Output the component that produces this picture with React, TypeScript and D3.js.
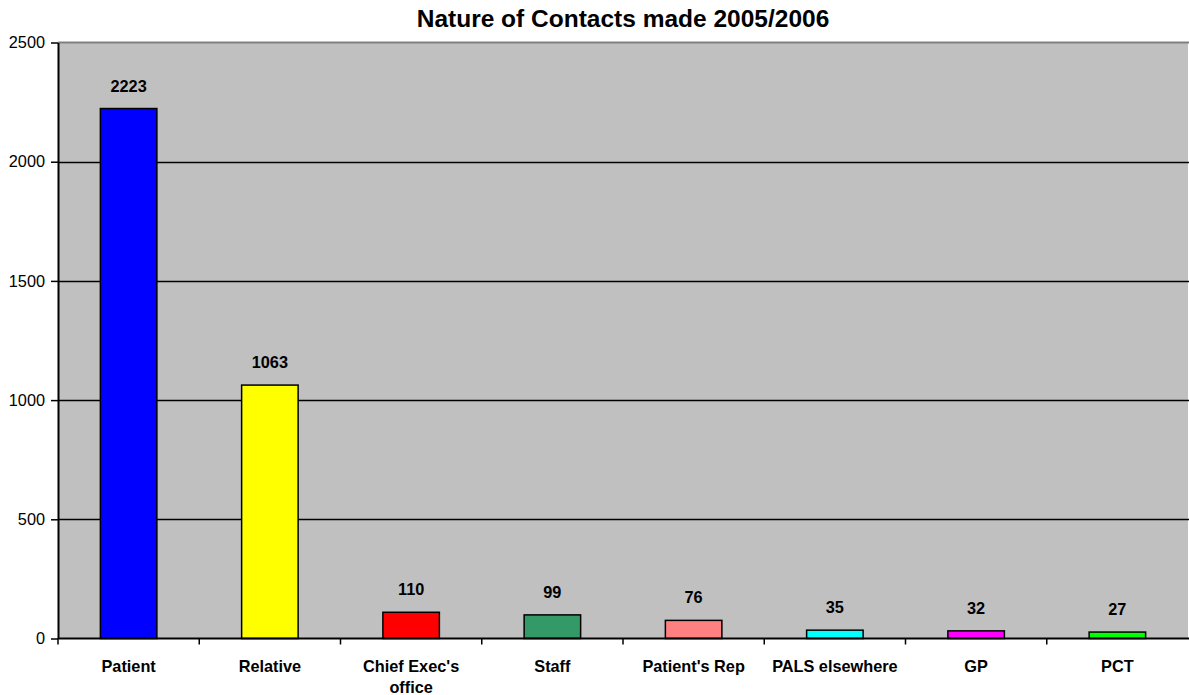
import React, { useEffect, useRef } from 'react';
import * as d3 from 'd3';

const categories = ["Patient", "Relative", "Chief Exec's office", "Staff", "Patient's Rep", "PALS elsewhere", "GP", "PCT"];
const values = [2223, 1063, 110, 99, 76, 35, 32, 27];
const barColors = ["#0000FF", "#FFFF00", "#FF0000", "#339966", "#FF8080", "#00FFFF", "#FF00FF", "#00FF00"];
const yTicks = [0, 500, 1000, 1500, 2000, 2500];
const title = "Nature of Contacts made 2005/2006";

const W = 1189;
const H = 695;

const App: React.FC = () => {
  const svgRef = useRef<SVGSVGElement>(null);

  useEffect(() => {
    if (!svgRef.current) return;
    const svg = d3.select(svgRef.current);
    svg.selectAll("*").remove();

    const left = 58;
    const right = 1188;
    const top = 42.5;
    const bottom = 638.5;
    const font = "'Liberation Sans', Arial, sans-serif";
    const fs = "16.3px";

    const x = d3.scaleBand<string>()
      .domain(categories)
      .range([left, right])
      .paddingInner(0)
      .paddingOuter(0);

    const y = d3.scaleLinear()
      .domain([0, 2500])
      .range([bottom, top]);

    // plot background
    svg.append("rect")
      .attr("x", left)
      .attr("y", top)
      .attr("width", right - left)
      .attr("height", bottom - top)
      .attr("fill", "#C0C0C0");

    // top border
    svg.append("line")
      .attr("x1", left).attr("x2", W)
      .attr("y1", top).attr("y2", top)
      .attr("stroke", "#808080")
      .attr("stroke-width", 2);

    // gridlines
    svg.append("g")
      .selectAll("line")
      .data(yTicks.filter(t => t > 0 && t < 2500))
      .enter()
      .append("line")
      .attr("x1", left).attr("x2", W)
      .attr("y1", d => Math.round(y(d)) + 0.5)
      .attr("y2", d => Math.round(y(d)) + 0.5)
      .attr("stroke", "#000")
      .attr("stroke-width", 1.5);

    // bars
    const barW = x.bandwidth() * 0.4;
    svg.append("g")
      .selectAll("rect")
      .data(values)
      .enter()
      .append("rect")
      .attr("x", (_, i) => (x(categories[i]) || 0) + x.bandwidth() / 2 - barW / 2)
      .attr("y", d => y(d))
      .attr("width", barW)
      .attr("height", d => bottom - y(d))
      .attr("fill", (_, i) => barColors[i])
      .attr("stroke", "#000")
      .attr("stroke-width", 1.5);

    // value labels
    svg.append("g")
      .selectAll("text")
      .data(values)
      .enter()
      .append("text")
      .attr("x", (_, i) => (x(categories[i]) || 0) + x.bandwidth() / 2)
      .attr("y", d => y(d) - 17)
      .attr("text-anchor", "middle")
      .style("font-family", font)
      .style("font-size", fs)
      .style("font-weight", "bold")
      .text(d => d);

    // y axis
    const yAxis = svg.append("g")
      .attr("transform", `translate(${left},0)`)
      .call(d3.axisLeft(y).tickValues(yTicks).tickFormat(d3.format("d")).tickSize(7).tickPadding(6).tickSizeOuter(0));
    yAxis.select(".domain").attr("stroke", "#000").attr("stroke-width", 2);
    yAxis.selectAll(".tick line").attr("stroke", "#000").attr("stroke-width", 1.5);
    yAxis.selectAll("text")
      .style("font-family", font)
      .style("font-size", fs)
      .attr("fill", "#000");

    // x axis
    const xAxis = svg.append("g")
      .attr("transform", `translate(0,${bottom})`);
    xAxis.append("line")
      .attr("x1", left).attr("x2", W)
      .attr("y1", 0).attr("y2", 0)
      .attr("stroke", "#000")
      .attr("stroke-width", 2);
    xAxis.selectAll(".xtick")
      .data(categories)
      .enter()
      .append("line")
      .attr("x1", d => x(d) || 0)
      .attr("x2", d => x(d) || 0)
      .attr("y1", 0).attr("y2", 6)
      .attr("stroke", "#000")
      .attr("stroke-width", 1.5);

    const wrapped: Record<string, string[]> = {
      "Chief Exec's office": ["Chief Exec's", "office"],
    };
    const labels = xAxis.selectAll(".xlabel")
      .data(categories)
      .enter()
      .append("text")
      .attr("text-anchor", "middle")
      .style("font-family", font)
      .style("font-size", fs)
      .style("font-weight", "bold")
      .attr("fill", "#000");
    labels.each(function (d) {
      const lines = wrapped[d] || [d];
      const t = d3.select(this);
      lines.forEach((ln, k) => {
        t.append("tspan")
          .attr("x", (x(d) || 0) + x.bandwidth() / 2)
          .attr("y", 33 + k * 21)
          .text(ln);
      });
    });

    // title
    svg.append("text")
      .attr("x", 623)
      .attr("y", 27)
      .attr("text-anchor", "middle")
      .style("font-family", font)
      .style("font-size", "24.5px")
      .style("font-weight", "bold")
      .text(title);
  }, []);

  return (
    <svg
      ref={svgRef}
      width={W}
      height={H}
      style={{ position: "absolute", left: 0, top: 0, background: "#fff" }}
    />
  );
};

export default App;
